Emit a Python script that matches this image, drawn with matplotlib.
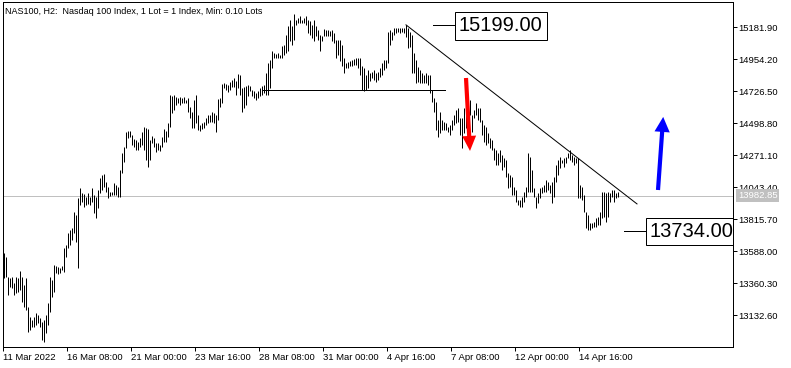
import matplotlib
matplotlib.use('Agg')
import matplotlib.pyplot as plt
import numpy as np

# bar highs / lows, NAS100 H2 (one entry per bar)
highs = [13576, 13547, 13405, 13398, 13405, 13362, 13405, 13398, 13448, 13405,
         13348, 13398, 13192, 13121, 13099, 13121, 13149, 13135, 13113, 13085,
         13099, 13135, 13220, 13405, 13384, 13491, 13484, 13476, 13469, 13484,
         13611, 13633, 13718, 13740, 13754, 13868, 13846, 13967, 14038, 14003,
         13996, 13974, 14003, 13974, 14038, 13989, 13974, 14024, 14110, 14131,
         14138, 14081, 14045, 14010, 14010, 14074, 14060, 14045, 14166, 14287,
         14330, 14437, 14444, 14444, 14415, 14387, 14380, 14366, 14394, 14437,
         14472, 14465, 14458, 14380, 14408, 14394, 14359, 14359, 14344, 14401,
         14458, 14444, 14501, 14700, 14693, 14700, 14686, 14679, 14686, 14679,
         14686, 14665, 14679, 14615, 14579, 14665, 14700, 14558, 14487, 14501,
         14508, 14536, 14558, 14558, 14579, 14572, 14558, 14672, 14679, 14778,
         14786, 14778, 14771, 14793, 14807, 14821, 14800, 14849, 14842, 14750,
         14757, 14764, 14771, 14764, 14736, 14729, 14714, 14729, 14750, 14764,
         14771, 14857, 14928, 14949, 15013, 14999, 14992, 14999, 14985, 15049,
         15056, 15127, 15191, 15234, 15191, 15276, 15234, 15248, 15262, 15234,
         15248, 15262, 15234, 15227, 15198, 15234, 15191, 15163, 15127, 15120,
         15170, 15163, 15163, 15155, 15163, 15141, 15091, 15091, 15091, 15056,
         14963, 14928, 14935, 14942, 14949, 14956, 14963, 14963, 14963, 14906,
         14892, 14842, 14878, 14857, 14864, 14878, 14857, 14864, 14892, 14928,
         14949, 14949, 15148, 15163, 15148, 15177, 15177, 15177, 15177, 15177,
         15177, 15199, 15177, 15148, 15127, 14999, 14949, 14899, 14878, 14857,
         14842, 14857, 14842, 14842, 14736, 14679, 14650, 14522, 14579, 14522,
         14508, 14501, 14472, 14487, 14522, 14558, 14593, 14608, 14536, 14536,
         14608, 14593, 14643, 14665, 14558, 14593, 14643, 14608, 14608, 14522,
         14487, 14472, 14430, 14394, 14380, 14323, 14309, 14287, 14309, 14273,
         14252, 14238, 14145, 14131, 14117, 14045, 14024, 13953, 13953, 13974,
         14010, 14045, 14287, 14259, 14166, 14038, 13974, 14003, 14038, 14045,
         14060, 14095, 14081, 14060, 14081, 14117, 14202, 14238, 14259, 14238,
         14252, 14259, 14287, 14309, 14273, 14259, 14252, 14252, 14060, 14045,
         13989, 13868, 13846, 13789, 13789, 13797, 13825, 13832, 13868, 14010,
         14010, 14003, 14010, 14003, 14024, 14024, 14003, 14010]
lows = [13398, 13405, 13277, 13334, 13327, 13277, 13291, 13298, 13313, 13227,
        13192, 13170, 13014, 13028, 13049, 13049, 13064, 13078, 13049, 12957,
        12943, 13007, 13064, 13156, 13263, 13298, 13434, 13426, 13434, 13455,
        13441, 13547, 13611, 13633, 13668, 13718, 13654, 13469, 13917, 13939,
        13903, 13917, 13925, 13917, 13939, 13861, 13825, 13896, 14003, 14024,
        14045, 14010, 13967, 13981, 13989, 13989, 13989, 13974, 13974, 14145,
        14223, 14323, 14394, 14401, 14344, 14330, 14309, 14309, 14330, 14344,
        14309, 14238, 14188, 14238, 14359, 14330, 14295, 14309, 14302, 14330,
        14366, 14366, 14401, 14472, 14572, 14593, 14629, 14643, 14629, 14643,
        14643, 14643, 14579, 14536, 14465, 14465, 14501, 14451, 14444, 14458,
        14465, 14487, 14501, 14508, 14508, 14501, 14437, 14522, 14615, 14643,
        14750, 14736, 14721, 14736, 14757, 14757, 14700, 14750, 14700, 14579,
        14608, 14629, 14693, 14729, 14693, 14679, 14665, 14679, 14693, 14700,
        14714, 14700, 14700, 14750, 14892, 14963, 14963, 14963, 14963, 14963,
        14985, 14999, 15013, 15084, 15056, 15091, 15198, 15212, 15212, 15212,
        15212, 15198, 15141, 15127, 15106, 15084, 15120, 15091, 15013, 15084,
        15120, 15120, 15120, 15120, 15084, 15070, 14963, 14985, 14942, 14906,
        14857, 14892, 14892, 14906, 14906, 14914, 14914, 14892, 14842, 14736,
        14729, 14736, 14750, 14800, 14821, 14807, 14793, 14807, 14828, 14842,
        14878, 14892, 14928, 15056, 15091, 15127, 15141, 15148, 15141, 15148,
        15141, 15113, 15034, 15041, 14857, 14857, 14786, 14793, 14786, 14786,
        14786, 14786, 14771, 14714, 14650, 14579, 14451, 14401, 14430, 14451,
        14451, 14451, 14437, 14415, 14451, 14487, 14501, 14508, 14415, 14323,
        14430, 14465, 14487, 14558, 14437, 14536, 14558, 14522, 14508, 14415,
        14366, 14344, 14359, 14323, 14309, 14238, 14202, 14202, 14223, 14166,
        14188, 14117, 14038, 14045, 13989, 13989, 13939, 13917, 13903, 13903,
        13939, 13974, 14010, 14010, 14010, 13974, 13896, 13932, 13967, 14003,
        14010, 14010, 14024, 14003, 13932, 13974, 14081, 14131, 14181, 14216,
        14188, 14216, 14252, 14238, 14223, 14202, 14216, 13967, 13967, 13953,
        13868, 13754, 13740, 13740, 13754, 13761, 13761, 13775, 13775, 13825,
        13832, 13797, 13832, 13939, 13974, 13939, 13967, 13974]

last_price = 13982.85
y_ticks = [15181.90, 14954.20, 14726.50, 14498.80, 14271.10,
           14043.40, 13815.70, 13588.00, 13360.30, 13132.60]
x_tick_bars = [0, 32, 64, 96, 128, 160, 192, 224, 256, 288]
x_tick_labels = ['11 Mar 2022', '16 Mar 08:00', '21 Mar 00:00', '23 Mar 16:00',
                 '28 Mar 08:00', '31 Mar 00:00', '4 Apr 16:00', '7 Apr 08:00',
                 '12 Apr 00:00', '14 Apr 16:00']
title = 'NAS100, H2:  Nasdaq 100 Index, 1 Lot = 1 Index, Min: 0.10 Lots'

# drawn objects
level_high = 15199.00
level_low = 13734.00
support = 14736.0
trend_start = (201, 15199.0)
trend_end = (316.5, 13925.0)

PX = 72 / 100  # one pixel in points
SMALL = dict(family='Liberation Sans', size=6.8)

fig = plt.figure(figsize=(7.91, 3.68), dpi=100)
ax = fig.add_axes([2.7 / 791, 1 - 346.7 / 368, (733.3 - 2.7) / 791, (346.7 - 2.3) / 368])

idx = np.arange(len(highs))
ax.vlines(idx, lows, highs, color='black', lw=PX)

ax.set_xlim(-0.65, 364.65)
ax.set_ylim(12909, 15359.6)

for s in ax.spines.values():
    s.set_linewidth(PX)
    s.set_color('black')

# ticks
ax.yaxis.tick_right()
ax.set_yticks(y_ticks)
ax.set_yticklabels(['%.2f' % v for v in y_ticks], **SMALL)
ax.tick_params(axis='y', direction='out', length=4 * PX, width=PX, pad=1, colors='black')
ax.set_xticks([b - 0.65 for b in x_tick_bars])
ax.set_xticklabels(x_tick_labels, ha='left', **SMALL)
ax.tick_params(axis='x', direction='out', length=4 * PX, width=PX, pad=1.5, colors='black')

# current price
ax.axhline(last_price, color='#c0c0c0', lw=PX, zorder=0)
ax.annotate('%.2f' % last_price, xy=(1.0, last_price), xycoords=('axes fraction', 'data'),
            xytext=(3 * PX + 1.2, 0), textcoords='offset points', ha='left', va='center',
            color='white', **SMALL,
            bbox=dict(boxstyle='square,pad=0.2', fc='#c0c0c0', ec='none'),
            annotation_clip=False)

# title
ax.text(2.5 / 730.6, 1 - 9 / 344.4, title, transform=ax.transAxes, ha='left', va='center',
        color='black', family='Liberation Sans', size=6.5)

# trend line and support
ax.plot([trend_start[0], trend_end[0]], [trend_start[1], trend_end[1]], color='black', lw=PX)
ax.plot([129.5, 220.5], [support, support], color='black', lw=PX)

# level labels
ax.plot([214.5, 226], [level_high, level_high], color='black', lw=PX)
ax.text(227.5, level_high - 8, '%.2f' % level_high, ha='left', va='center', fontsize=14.5,
        family='Liberation Sans',
        bbox=dict(boxstyle='square,pad=0.2', fc='white', ec='black', lw=PX))
ax.plot([310, 321.5], [level_low, level_low], color='black', lw=PX)
ax.text(323, level_low - 8, '%.2f' % level_low, ha='left', va='center', fontsize=14.5,
        family='Liberation Sans', clip_on=True,
        bbox=dict(boxstyle='square,pad=0.2', fc='white', ec='black', lw=PX))

# arrows
ax.annotate('', xy=(233, 14302), xytext=(231, 14821),
            arrowprops=dict(arrowstyle='simple,head_length=1.08,head_width=1.0,tail_width=0.3',
                            fc='red', ec='none', shrinkA=0, shrinkB=0, mutation_scale=10))
ax.annotate('', xy=(329.6, 14544), xytext=(327, 14024),
            arrowprops=dict(arrowstyle='simple,head_length=1.08,head_width=1.1,tail_width=0.3',
                            fc='blue', ec='none', shrinkA=0, shrinkB=0, mutation_scale=10))

fig.savefig('out.png', dpi=100)
